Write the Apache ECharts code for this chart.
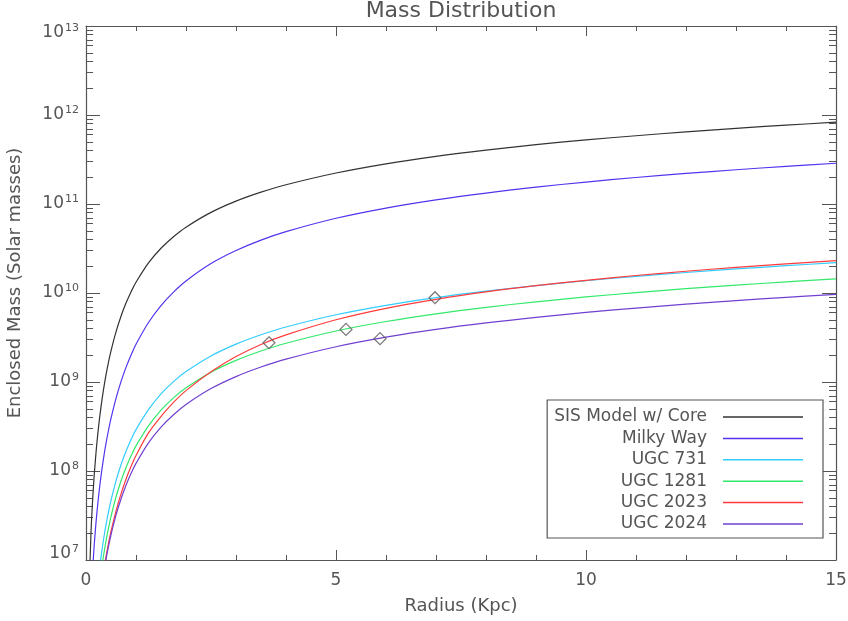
<!DOCTYPE html>
<html>
<head>
<meta charset="utf-8">
<script src="https://cdn.jsdelivr.net/npm/echarts@6/dist/echarts.min.js"></script>
<style>
html,body{margin:0;padding:0;background:#fff;}
#chart{width:848px;height:621px;}
</style>
</head>
<body>
<div id="chart"></div>
<script>
// ---- data ----
const radius = [0.05, 0.1, 0.15, 0.2, 0.25, 0.3, 0.35, 0.4, 0.45, 0.5, 0.6, 0.7, 0.8, 0.9, 1, 1.25, 1.5, 1.75, 2, 2.5, 3, 3.5, 4, 5, 6, 7, 8, 9, 10, 11, 12, 13, 14, 15];

const sisModel = [2.56e6, 2.04e7, 6.82e7, 1.60e8, 3.09e8, 5.25e8, 8.19e8, 1.20e9, 1.67e9, 2.24e9, 3.66e9, 5.49e9, 7.70e9, 1.028e10, 1.32e10, 2.18e10, 3.18e10, 4.29e10, 5.49e10, 8.05e10, 1.077e11, 1.358e11, 1.645e11, 2.23e11, 2.83e11, 3.43e11, 4.03e11, 4.64e11, 5.25e11, 5.85e11, 6.47e11, 7.08e11, 7.69e11, 8.30e11];

const milkyWay = [4.2e5, 3.3e6, 1.11e7, 2.63e7, 5.11e7, 8.76e7, 1.38e8, 2.04e8, 2.87e8, 3.90e8, 6.56e8, 1.011e9, 1.46e9, 2.00e9, 2.65e9, 4.66e9, 7.22e9, 1.024e10, 1.366e10, 2.14e10, 3.00e10, 3.93e10, 4.89e10, 6.91e10, 9.00e10, 1.113e11, 1.328e11, 1.546e11, 1.765e11, 1.984e11, 2.205e11, 2.426e11, 2.648e11, 2.87e11];

const ugc731 = [5.2e4, 4.16e5, 1.40e6, 3.26e6, 6.32e6, 1.079e7, 1.69e7, 2.48e7, 3.47e7, 4.68e7, 7.75e7, 1.174e8, 1.666e8, 2.248e8, 2.917e8, 4.891e8, 7.351e8, 1.0095e9, 1.309e9, 1.961e9, 2.662e9, 3.395e9, 4.148e9, 5.695e9, 7.274e9, 8.873e9, 1.0484e10, 1.2103e10, 1.3728e10, 1.5358e10, 1.699e10, 1.8626e10, 2.0263e10, 2.19e10];

const ugc1281 = [3.4e4, 2.74e5, 9.2e5, 2.14e6, 4.16e6, 7.09e6, 1.111e7, 1.63e7, 2.28e7, 3.08e7, 5.10e7, 7.72e7, 1.095e8, 1.478e8, 1.918e8, 3.216e8, 4.833e8, 6.637e8, 8.607e8, 1.289e9, 1.750e9, 2.232e9, 2.727e9, 3.744e9, 4.783e9, 5.834e9, 6.893e9, 7.958e9, 9.026e9, 1.0098e10, 1.1171e10, 1.2247e10, 1.3323e10, 1.44e10];

const ugc2023 = [2.18e4, 1.74e5, 5.87e5, 1.39e6, 2.69e6, 4.63e6, 7.31e6, 1.085e7, 1.535e7, 2.09e7, 3.549e7, 5.527e7, 8.069e7, 1.121e8, 1.49e8, 2.68e8, 4.1e8, 5.9e8, 8.0e8, 1.30e9, 1.93e9, 2.64e9, 3.38e9, 5.0e9, 6.72e9, 8.48e9, 1.0289e10, 1.2084e10, 1.3897e10, 1.5722e10, 1.7557e10, 1.9399e10, 2.1248e10, 2.31e10];

const ugc2024 = [2.12e4, 1.69e5, 5.72e5, 1.333e6, 2.58e6, 4.41e6, 6.92e6, 1.017e7, 1.426e7, 1.922e7, 3.193e7, 4.854e7, 6.910e7, 9.355e7, 1.2174e8, 2.072e8, 3.109e8, 4.292e8, 5.589e8, 8.433e8, 1.1504e9, 1.4723e9, 1.8042e9, 2.487e9, 3.186e9, 3.893e9, 4.607e9, 5.325e9, 6.045e9, 6.768e9, 7.492e9, 8.217e9, 8.943e9, 9.67e9];

const markerRadius = [3.66, 5.2, 5.88, 6.98];
const markerMass = [2.76e9, 3.9e9, 3.07e9, 8.85e9];

const seriesNames = ['SIS Model w/ Core', 'Milky Way', 'UGC 731', 'UGC 1281', 'UGC 2023', 'UGC 2024'];
const seriesValues = [sisModel, milkyWay, ugc731, ugc1281, ugc2023, ugc2024];
const seriesColors = ['#333333', '#5533ee', '#33ccff', '#33e86a', '#ff3b3b', '#7040d0'];

const xTicks = [0, 5, 10, 15];
const yRange = [1e7, 1e13];

// ---- chart ----
const FONT = "'DejaVu Sans', sans-serif";
const GRAY = '#555555';
const chart = echarts.init(document.getElementById('chart'), null, {renderer: 'canvas'});

function pairs(ys) { return radius.map((r, i) => [r, ys[i]]); }

const xAxisBase = {
  type: 'value', min: xTicks[0], max: xTicks[xTicks.length - 1], interval: 5,
  axisLine: {show: true, onZero: false, lineStyle: {color: GRAY, width: 1.2}},
  axisTick: {show: true, inside: true, length: 10, lineStyle: {color: GRAY, width: 1}},
  minorTick: {show: true, splitNumber: 5, length: 5, lineStyle: {color: GRAY, width: 1}},
  splitLine: {show: false}, minorSplitLine: {show: false}
};
const yAxisBase = {
  type: 'log', logBase: 10, min: yRange[0], max: yRange[1],
  axisLine: {show: true, onZero: false, lineStyle: {color: GRAY, width: 1.2}},
  axisTick: {show: true, inside: true, length: 14, lineStyle: {color: GRAY, width: 1}},
  minorTick: {show: true, splitNumber: 9, length: 7, lineStyle: {color: GRAY, width: 1}},
  splitLine: {show: false}, minorSplitLine: {show: false}
};

const lineSeries = seriesNames.map((name, i) => ({
  name: name, type: 'line', data: pairs(seriesValues[i]),
  showSymbol: false, symbol: 'none', smooth: 0.35, clip: true,
  color: seriesColors[i],
  lineStyle: {color: seriesColors[i], width: 1.2},
  z: 3 + i
}));

const option = {
  animation: false,
  backgroundColor: '#ffffff',
  title: {
    text: 'Mass Distribution', left: 456, top: -5, textAlign: 'center',
    textStyle: {color: GRAY, fontSize: 22, fontWeight: 'normal', fontFamily: FONT}
  },
  grid: {left: 86, right: 12, top: 26, bottom: 61, containLabel: false, outerBoundsMode: 'none'},
  legend: {
    orient: 'vertical', right: 25, top: 400, align: 'right',
    icon: 'rect', itemWidth: 80, itemHeight: 1.5, itemGap: 3.4,
    borderColor: GRAY, borderWidth: 1.2, padding: [8, 20, 5, 7],
    backgroundColor: '#ffffff',
    textStyle: {color: GRAY, fontSize: 17, fontFamily: FONT, lineHeight: 18, padding: [0, 11, 0, 0]},
    data: seriesNames
  },
  xAxis: [
    Object.assign({}, xAxisBase, {
      position: 'bottom',
      axisLabel: {show: true, color: GRAY, fontSize: 17, fontFamily: FONT, margin: 12},
      name: 'Radius (Kpc)', nameLocation: 'middle', nameGap: 37,
      nameTextStyle: {color: GRAY, fontSize: 18, fontFamily: FONT}
    }),
    Object.assign({}, xAxisBase, {position: 'top', axisLabel: {show: false}})
  ],
  yAxis: [
    Object.assign({}, yAxisBase, {
      position: 'left',
      axisLabel: {
        show: true, margin: 7, fontFamily: FONT, color: GRAY,
        formatter: function (v) {
          const e = Math.round(Math.log10(v));
          if (v >= yRange[1]) return '{bt|10}{st|' + e + '}';
          if (v <= yRange[0]) return '{bb|10}{sb|' + e + '}';
          return '{b|10}{s|' + e + '}';
        },
        rich: {
          b: {fontSize: 17, fontFamily: FONT, color: GRAY},
          s: {fontSize: 11, fontFamily: FONT, color: GRAY, padding: [0, 0, 9, 1]},
          bt: {fontSize: 17, fontFamily: FONT, color: GRAY, padding: [14, 0, 0, 0]},
          st: {fontSize: 11, fontFamily: FONT, color: GRAY, padding: [14, 0, 9, 1]},
          bb: {fontSize: 17, fontFamily: FONT, color: GRAY, padding: [0, 0, 12, 0]},
          sb: {fontSize: 11, fontFamily: FONT, color: GRAY, padding: [0, 0, 21, 1]}
        }
      },
      name: 'Enclosed Mass (Solar masses)', nameLocation: 'middle', nameGap: 62, nameRotate: 90,
      nameTextStyle: {color: GRAY, fontSize: 18, fontFamily: FONT, padding: [0, 0, 0, 20]}
    }),
    Object.assign({}, yAxisBase, {position: 'right', axisLabel: {show: false}})
  ],
  series: lineSeries.concat([{
    name: 'markers', type: 'scatter',
    data: markerRadius.map((r, i) => [r, markerMass[i]]),
    symbol: 'diamond', symbolSize: 12,
    itemStyle: {color: 'rgba(255,255,255,0)', borderColor: GRAY, borderWidth: 1.2},
    z: 20, silent: true
  }])
};
chart.setOption(option);
</script>
</body>
</html>
